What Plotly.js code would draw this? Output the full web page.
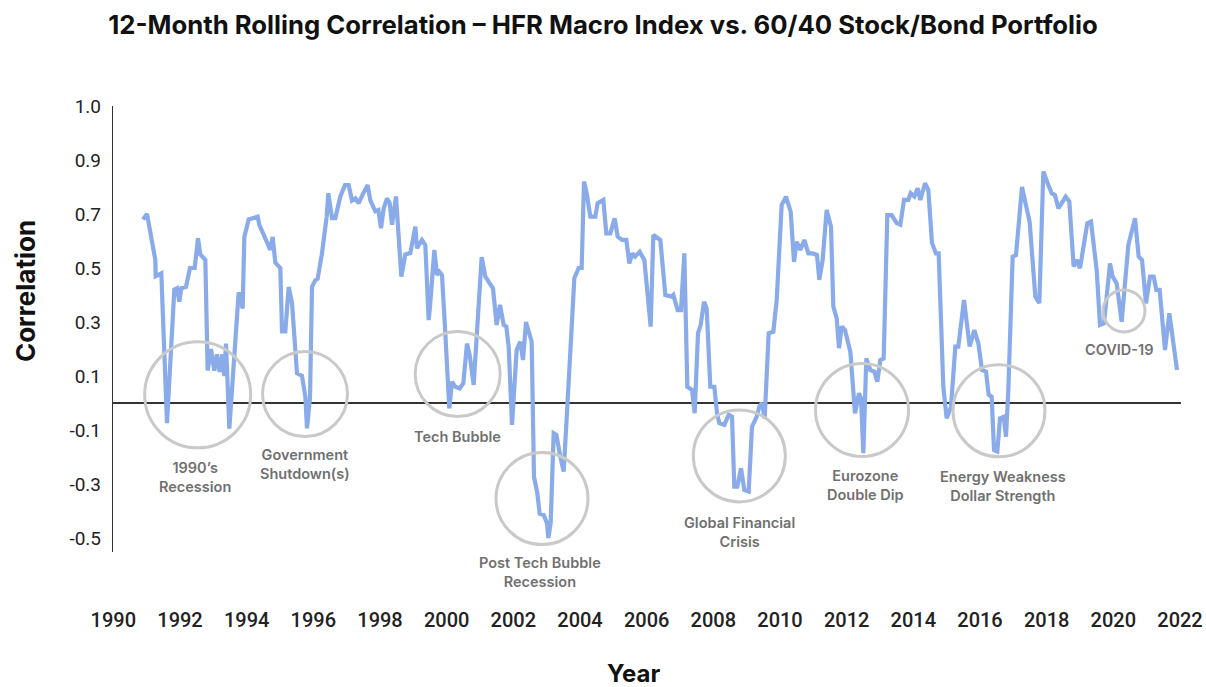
<!DOCTYPE html>
<html>
<head>
<meta charset="utf-8">
<script src="https://cdn.plot.ly/plotly-3.0.1.min.js"></script>
<style>
  html, body { margin: 0; padding: 0; background: #ffffff; }
  #chart { width: 1206px; height: 687px; }
</style>
</head>
<body>
<div id="chart"></div>
<script>
// ---- Data ----
const years = [
  1990.89, 1991.01, 1991.26, 1991.27, 1991.44, 1991.61, 1991.83, 1991.91, 1991.98, 1992.04,
  1992.18, 1992.30, 1992.44, 1992.54, 1992.61, 1992.76, 1992.83, 1992.93, 1993.03, 1993.11,
  1993.19, 1993.27, 1993.33, 1993.38, 1993.48, 1993.76, 1993.88, 1993.93, 1994.06, 1994.21,
  1994.33, 1994.38, 1994.66, 1994.71, 1994.78, 1994.86, 1995.01, 1995.06, 1995.16, 1995.26,
  1995.36, 1995.51, 1995.66, 1995.76, 1995.81, 1995.90, 1995.96, 1996.06, 1996.13, 1996.26,
  1996.40, 1996.45, 1996.56, 1996.66, 1996.81, 1996.95, 1997.06, 1997.16, 1997.26, 1997.36,
  1997.50, 1997.63, 1997.71, 1997.86, 1997.95, 1998.03, 1998.11, 1998.21, 1998.29, 1998.36,
  1998.48, 1998.64, 1998.76, 1998.91, 1999.06, 1999.11, 1999.26, 1999.36, 1999.46, 1999.50,
  1999.63, 1999.71, 1999.78, 1999.86, 1999.96, 2000.08, 2000.16, 2000.26, 2000.39, 2000.50,
  2000.61, 2000.69, 2000.81, 2001.05, 2001.16, 2001.39, 2001.50, 2001.60, 2001.71, 2001.79,
  2001.86, 2001.96, 2002.10, 2002.21, 2002.29, 2002.38, 2002.55, 2002.62, 2002.72, 2002.79,
  2002.91, 2003.01, 2003.05, 2003.12, 2003.21, 2003.29, 2003.41, 2003.51, 2003.62, 2003.83,
  2003.96, 2004.05, 2004.12, 2004.20, 2004.31, 2004.46, 2004.53, 2004.70, 2004.79, 2004.91,
  2005.04, 2005.13, 2005.26, 2005.39, 2005.48, 2005.57, 2005.65, 2005.79, 2005.93, 2006.12,
  2006.20, 2006.41, 2006.56, 2006.75, 2006.80, 2006.93, 2007.03, 2007.13, 2007.22, 2007.36,
  2007.44, 2007.54, 2007.62, 2007.72, 2007.80, 2007.91, 2008.03, 2008.11, 2008.18, 2008.33,
  2008.46, 2008.56, 2008.63, 2008.72, 2008.83, 2008.93, 2009.06, 2009.16, 2009.30, 2009.38,
  2009.46, 2009.54, 2009.66, 2009.80, 2009.90, 2010.05, 2010.18, 2010.32, 2010.42, 2010.50,
  2010.61, 2010.73, 2010.85, 2010.98, 2011.11, 2011.18, 2011.28, 2011.40, 2011.53, 2011.60,
  2011.70, 2011.77, 2011.85, 2011.95, 2012.11, 2012.25, 2012.37, 2012.43, 2012.50, 2012.59,
  2012.71, 2012.83, 2012.92, 2013.01, 2013.11, 2013.22, 2013.35, 2013.50, 2013.61, 2013.72,
  2013.85, 2013.92, 2014.03, 2014.13, 2014.21, 2014.35, 2014.45, 2014.56, 2014.68, 2014.76,
  2014.90, 2015.00, 2015.13, 2015.26, 2015.35, 2015.52, 2015.69, 2015.83, 2015.95, 2016.06,
  2016.18, 2016.26, 2016.35, 2016.42, 2016.52, 2016.60, 2016.71, 2016.78, 2016.85, 2016.98,
  2017.08, 2017.26, 2017.49, 2017.66, 2017.78, 2017.90, 2018.05, 2018.15, 2018.25, 2018.35,
  2018.45, 2018.57, 2018.68, 2018.81, 2018.90, 2019.00, 2019.22, 2019.33, 2019.50, 2019.60,
  2019.72, 2019.90, 2019.98, 2020.10, 2020.25, 2020.45, 2020.65, 2020.76, 2020.86, 2020.98,
  2021.10, 2021.21, 2021.29, 2021.39, 2021.55, 2021.68, 2021.91
];
const correlation = [
  0.68, 0.70, 0.53, 0.47, 0.48, -0.075, 0.42, 0.425, 0.375, 0.425,
  0.43, 0.50, 0.50, 0.61, 0.55, 0.53, 0.12, 0.20, 0.12, 0.18,
  0.115, 0.18, 0.10, 0.22, -0.095, 0.41, 0.35, 0.615, 0.68, 0.685,
  0.69, 0.66, 0.585, 0.567, 0.615, 0.52, 0.50, 0.265, 0.265, 0.43,
  0.37, 0.11, 0.10, 0.023, -0.094, 0.02, 0.43, 0.455, 0.46, 0.555,
  0.69, 0.777, 0.685, 0.685, 0.765, 0.807, 0.807, 0.75, 0.758, 0.74,
  0.777, 0.807, 0.75, 0.71, 0.715, 0.647, 0.72, 0.758, 0.74, 0.66,
  0.765, 0.468, 0.55, 0.555, 0.653, 0.573, 0.604, 0.585, 0.307, 0.357,
  0.567, 0.474, 0.486, 0.474, 0.258, -0.02, 0.079, 0.06, 0.054, 0.073,
  0.22, 0.178, 0.067, 0.54, 0.468, 0.425, 0.289, 0.363, 0.289, 0.283,
  0.209, -0.081, 0.196, 0.227, 0.159, 0.30, 0.227, -0.273, -0.334, -0.41,
  -0.415, -0.445, -0.50, -0.445, -0.112, -0.118, -0.199, -0.254, -0.014, 0.462,
  0.50, 0.50, 0.82, 0.777, 0.69, 0.69, 0.74, 0.752, 0.628, 0.628,
  0.684, 0.616, 0.604, 0.604, 0.517, 0.554, 0.542, 0.56, 0.53, 0.283,
  0.622, 0.604, 0.40, 0.394, 0.40, 0.344, 0.344, 0.554, 0.06, 0.048,
  -0.038, 0.258, 0.289, 0.375, 0.35, 0.06, 0.06, -0.038, -0.075, -0.081,
  -0.044, -0.051, -0.31, -0.31, -0.242, -0.322, -0.328, -0.088, -0.051, -0.014,
  0.0, -0.057, 0.258, 0.264, 0.381, 0.733, 0.764, 0.709, 0.523, 0.597,
  0.567, 0.604, 0.554, 0.554, 0.548, 0.456, 0.53, 0.715, 0.653, 0.357,
  0.314, 0.203, 0.283, 0.27, 0.19, -0.038, 0.036, 0.017, -0.186, 0.165,
  0.122, 0.116, 0.079, 0.159, 0.165, 0.696, 0.696, 0.666, 0.66, 0.752,
  0.752, 0.777, 0.765, 0.795, 0.752, 0.814, 0.789, 0.592, 0.554, 0.554,
  0.06, -0.057, -0.014, 0.209, 0.209, 0.381, 0.209, 0.27, 0.221, 0.122,
  0.116, 0.03, 0.023, -0.174, -0.18, -0.057, -0.051, -0.125, 0.048, 0.542,
  0.548, 0.80, 0.67, 0.394, 0.37, 0.857, 0.807, 0.777, 0.77, 0.721,
  0.74, 0.764, 0.746, 0.505, 0.53, 0.499, 0.666, 0.672, 0.493, 0.289,
  0.295, 0.517, 0.468, 0.443, 0.301, 0.585, 0.684, 0.542, 0.53, 0.369,
  0.468, 0.468, 0.419, 0.419, 0.196, 0.332, 0.122
];

const xTickYears = [1990, 1992, 1994, 1996, 1998, 2000, 2002, 2004, 2006, 2008, 2010, 2012, 2014, 2016, 2018, 2020, 2022];
const yTickValues = [-0.5, -0.3, -0.1, 0.1, 0.3, 0.5, 0.7, 0.9, 1.1];
const yTickLabels = ["-0.5", "-0.3", "-0.1", "0.1", "0.3", "0.5", "0.7", "0.9", "1.0"];

// Highlighted events: label text, circle centre (year, correlation)
const eventLabels = ["1990\u2019s<br>Recession", "Government<br>Shutdown(s)", "Tech Bubble",
  "Post Tech Bubble<br>Recession", "Global Financial<br>Crisis", "Eurozone<br>Double Dip",
  "Energy Weakness<br>Dollar Strength", "COVID-19"];
const eventYears = [1992.53, 1995.75, 2000.33, 2002.86, 2008.78, 2012.46, 2016.57, 2020.32];
const eventValues = [0.030, 0.033, 0.107, -0.354, -0.196, -0.026, -0.029, 0.341];

// ---- Layout-only settings for the event markers ----
const circleRadiusPx = [53, 42.5, 42.5, 46, 46, 46.5, 46, 21];
const labelOffsetPx = [-82, -70, -62, -73, -76, -75, -75, -39];
const labelShiftPx = [-3, 0, 0, -2, 0, 3, 4, -5];

const FONT = "Inter, 'Liberation Sans', Arial, sans-serif";
const TICKFONT = "Roboto, 'Liberation Sans', Arial, sans-serif";

const shapes = eventYears.map((yr, i) => ({
  type: "circle",
  xref: "x", yref: "y",
  xsizemode: "pixel", ysizemode: "pixel",
  xanchor: yr, yanchor: eventValues[i],
  x0: -circleRadiusPx[i], x1: circleRadiusPx[i],
  y0: -circleRadiusPx[i], y1: circleRadiusPx[i],
  line: { color: "#c9c9c9", width: 3 },
  layer: "above"
}));

const annotations = eventYears.map((yr, i) => ({
  x: yr, y: eventValues[i], xref: "x", yref: "y",
  text: eventLabels[i],
  showarrow: false,
  xanchor: "center", yanchor: "middle",
  xshift: labelShiftPx[i], yshift: labelOffsetPx[i],
  font: { family: FONT, size: 14.5, color: "#707070", weight: 600 },
  align: "center"
}));

// axis titles placed as annotations to match the reference positions
annotations.push({
  text: "Correlation", xref: "paper", yref: "paper", x: -0.0824, y: 0.585,
  xanchor: "center", yanchor: "middle", textangle: -90, showarrow: false,
  font: { family: FONT, size: 26, color: "#111111", weight: 700 }
});
annotations.push({
  text: "Year", xref: "paper", yref: "paper", x: 0.4878, y: -0.2735,
  xanchor: "center", yanchor: "middle", showarrow: false,
  font: { family: FONT, size: 24, color: "#111111", weight: 700 }
});

const trace = {
  x: years, y: correlation,
  type: "scatter", mode: "lines",
  line: { color: "#8aabea", width: 4.2, shape: "linear" },
  hoverinfo: "x+y"
};

const layout = {
  width: 1206, height: 687,
  paper_bgcolor: "#ffffff", plot_bgcolor: "#ffffff",
  margin: { l: 113, r: 25, t: 106, b: 135 },
  showlegend: false,
  title: {
    text: "12-Month Rolling Correlation \u2013 HFR Macro Index vs. 60/40 Stock/Bond Portfolio",
    font: { family: FONT, size: 25.7, color: "#111111", weight: 700 },
    xref: "container", yref: "container",
    x: 0.5, xanchor: "center", y: 0.963, yanchor: "middle"
  },
  xaxis: {
    range: [1989.99, 2022.03],
    tickmode: "array", tickvals: xTickYears, ticktext: xTickYears.map(String),
    showgrid: false, zeroline: false, showline: false,
    ticks: "outside", ticklen: 50, tickcolor: "rgba(0,0,0,0)",
    tickfont: { family: TICKFONT, size: 20, color: "#222222", weight: 500 }
  },
  yaxis: {
    range: [-0.552, 1.1],
    tickmode: "array", tickvals: yTickValues, ticktext: yTickLabels,
    showgrid: false,
    zeroline: true, zerolinecolor: "#333333", zerolinewidth: 1.2,
    showline: true, linecolor: "#333333", linewidth: 1.2,
    ticks: "outside", ticklen: 7, tickcolor: "rgba(0,0,0,0)",
    tickfont: { family: TICKFONT, size: 19, color: "#222222" }
  },
  shapes: shapes,
  annotations: annotations
};

Plotly.newPlot("chart", [trace], layout, { displayModeBar: false, staticPlot: true });
</script>
</body>
</html>
